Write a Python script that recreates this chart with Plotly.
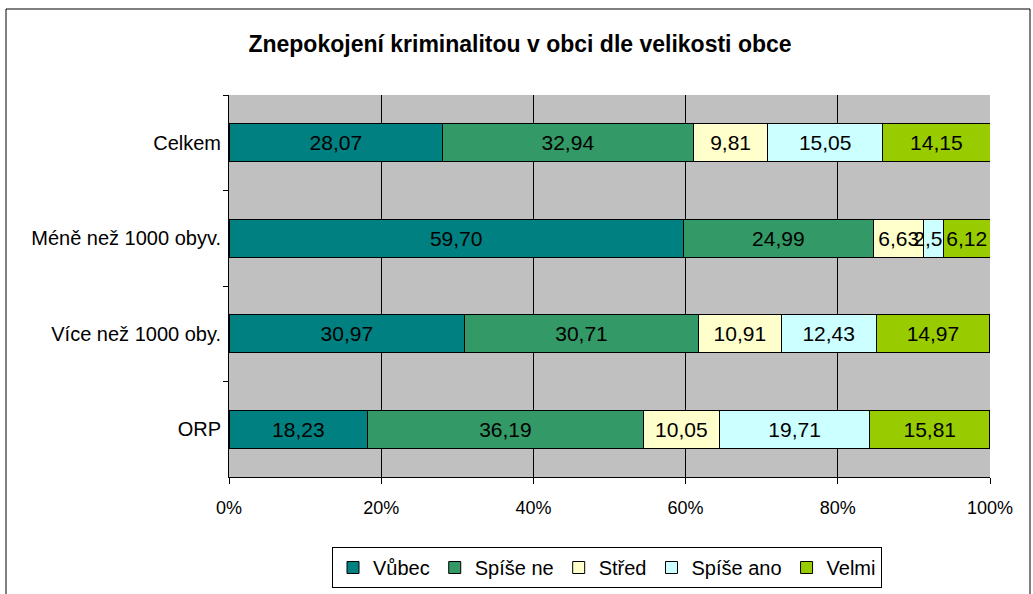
import plotly.graph_objects as go

categories = ["Celkem", "Méně než 1000 obyv.", "Více než 1000 oby.", "ORP"]
series_names = ["Vůbec", "Spíše ne", "Střed", "Spíše ano", "Velmi"]
vubec = [28.07, 59.70, 30.97, 18.23]
spise_ne = [32.94, 24.99, 30.71, 36.19]
stred = [9.81, 6.63, 10.91, 10.05]
spise_ano = [15.05, 2.56, 12.43, 19.71]
velmi = [14.15, 6.12, 14.97, 15.81]
x_ticks = [0, 20, 40, 60, 80, 100]

colors = ["#008080", "#339966", "#FFFFCC", "#CCFFFF", "#99CC00"]
values = [vubec, spise_ne, stred, spise_ano, velmi]

FONT = "Liberation Sans, Arial, sans-serif"

fig = go.Figure()
for name, vals, col in zip(series_names, values, colors):
    fig.add_trace(go.Bar(
        y=categories, x=vals, name=name, orientation="h",
        marker=dict(color=col, line=dict(color="black", width=1)),
        text=[f"{v:.2f}".replace(".", ",") for v in vals],
        textposition="inside", insidetextanchor="middle", textangle=0,
        constraintext="none",
        textfont=dict(family=FONT, size=21, color="black"),
        width=0.4,
    ))

W, H = 1033, 594
L, R, T, B = 229, 990, 95, 477
pw, ph = R - L, B - T

def px(x):
    return (x - L) / pw

def py(y):
    return (B - y) / ph

fig.update_layout(
    width=W, height=H,
    margin=dict(l=L, r=W - R, t=T, b=H - B),
    barmode="stack",
    paper_bgcolor="white", plot_bgcolor="#C0C0C0",
    font=dict(family=FONT, size=18, color="black"),
    title=dict(text="<b>Znepokojení kriminalitou v obci dle velikosti obce</b>",
               x=px(520), xref="paper", xanchor="center",
               y=1 - 44 / H, yanchor="middle",
               font=dict(size=23, color="black")),
    showlegend=True,
    legend=dict(orientation="h", x=px(607), xanchor="center",
                yref="container", y=1 - 547 / H, yanchor="top",
                bordercolor="black", borderwidth=1,
                font=dict(size=20), itemwidth=30, traceorder="normal",
                tracegroupgap=0),
    xaxis=dict(range=[0, 100], tickvals=x_ticks,
               ticktext=[f"{t}%" for t in x_ticks],
               showgrid=True, gridcolor="black", gridwidth=1,
               ticks="outside", ticklen=6, tickcolor="black",
               showline=True, linecolor="black", zeroline=False,
               tickfont=dict(size=18), ticklabelstandoff=8),
    yaxis=dict(autorange="reversed", categoryorder="array", categoryarray=categories,
               tickson="boundaries", ticks="outside", ticklen=5, tickcolor="black",
               showgrid=False, showline=True, linecolor="black",
               tickfont=dict(size=20), ticklabelstandoff=3),
    shapes=[dict(type="rect", xref="paper", yref="paper",
                 x0=px(6), x1=px(1030), y0=py(9), y1=py(620),
                 line=dict(color="black", width=1), fillcolor="rgba(0,0,0,0)",
                 layer="below")],
)

fig.write_html("out.html", config={"displayModeBar": False},
               post_script="document.body.style.margin='0';")
